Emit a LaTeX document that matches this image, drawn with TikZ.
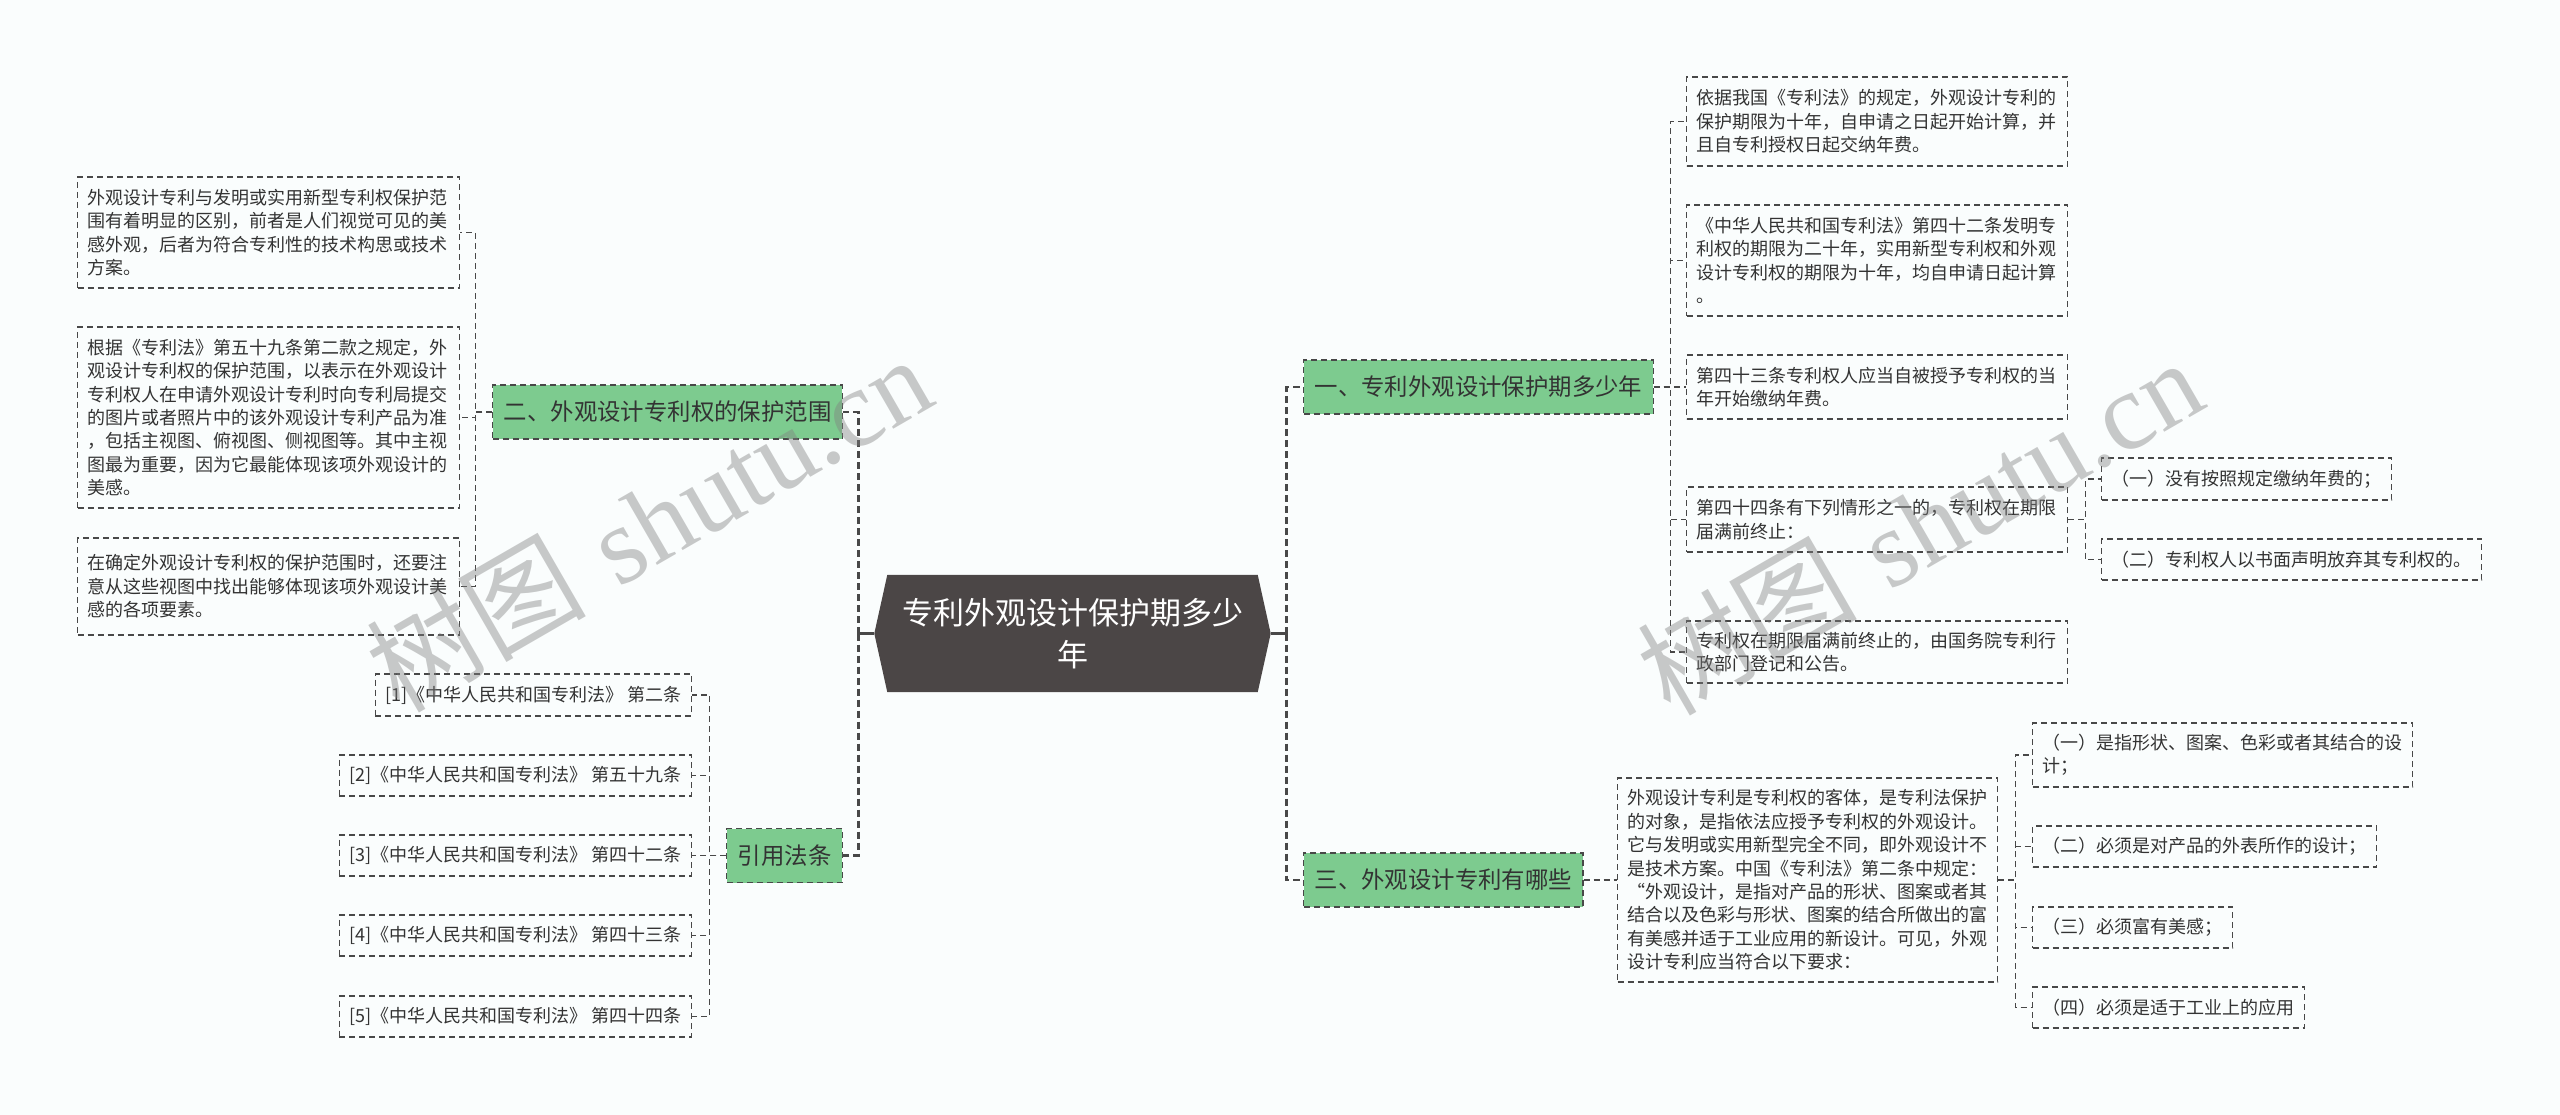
\documentclass[tikz,border=0pt]{standalone}
\usepackage{fontspec}
\newfontfamily\cjk{Noto Sans CJK SC}
\newfontfamily\wmserif{Liberation Serif}
\usetikzlibrary{backgrounds, calc}
\definecolor{BG}{RGB}{250,253,253}
\definecolor{LN}{RGB}{72,72,72}
\definecolor{TX}{RGB}{51,51,51}
\definecolor{GR}{RGB}{125,203,143}
\definecolor{RT}{RGB}{75,70,70}
\definecolor{WM}{RGB}{128,128,128}

\begin{document}
\begin{tikzpicture}[x=1pt, y=-1pt,
  leaf/.style={draw=LN, line width=1.2pt, dash pattern=on 6pt off 4pt,
    font=\cjk\fontsize{18}{23.4}\selectfont, text=TX, align=left,
    inner xsep=10pt, inner ysep=2pt},
  branch/.style={draw=LN, line width=1.2pt, dash pattern=on 6pt off 4pt,
    fill=GR, font=\cjk\fontsize{23.4}{28}\selectfont, text=TX,
    inner xsep=11pt, inner ysep=2pt, minimum height=54pt},
  rootbox/.style={font=\cjk\fontsize{31}{42}\selectfont, text=white,
    align=center, minimum width=370pt, minimum height=117pt, inner sep=0pt},
  link/.style={draw=LN, line width=1.2pt, dash pattern=on 6pt off 4pt},
  trunk/.style={draw=LN, line width=2.5pt, dash pattern=on 7pt off 4pt},
  stem/.style={draw=LN, line width=2.5pt},
  wmtext/.style={text=WM, text opacity=0.42, rotate=30, inner sep=0pt,
    font=\fontsize{110}{110}\selectfont}]

% Background
\begin{scope}[on background layer]
  \fill[BG] (0,0) rectangle (2560,1115);
\end{scope}
\useasboundingbox (0,0) rectangle (2560,1115);

% Root
\node[rootbox] (root) at (1072.5,633.5) {专利外观设计保护期多少\\年};
\begin{scope}[on background layer]
  \fill[RT] (root.north west) -- (root.north east) -- ($(root.east)+(13,0)$)
    -- (root.south east) -- (root.south west) -- ($(root.west)+(-13,0)$) -- cycle;
\end{scope}

% Left branches
\node[branch, anchor=east] (two) at (843,412) {二、外观设计专利权的保护范围};
\node[branch, anchor=east] (cite) at (843,855.5) {引用法条};

\node[leaf, text width=362pt, minimum height=111pt, anchor=west] (l1) at (77,232.5)
  {外观设计专利与发明或实用新型专利权保护范\\围有着明显的区别，前者是人们视觉可见的美\\感外观，后者为符合专利性的技术构思或技术\\方案。};
\node[leaf, text width=362pt, minimum height=181pt, anchor=west] (l2) at (77,417.5)
  {根据《专利法》第五十九条第二款之规定，外\\观设计专利权的保护范围，以表示在外观设计\\专利权人在申请外观设计专利时向专利局提交\\的图片或者照片中的该外观设计专利产品为准\\，包括主视图、俯视图、侧视图等。其中主视\\图最为重要，因为它最能体现该项外观设计的\\美感。};
\node[leaf, text width=362pt, minimum height=97pt, anchor=west] (l3) at (77,586.5)
  {在确定外观设计专利权的保护范围时，还要注\\意从这些视图中找出能够体现该项外观设计美\\感的各项要素。};

\node[leaf, minimum height=42pt, anchor=east] (r1) at (692,695) {[1]《中华人民共和国专利法》 第二条};
\node[leaf, minimum height=41pt, anchor=east] (r2) at (692,775.5) {[2]《中华人民共和国专利法》 第五十九条};
\node[leaf, minimum height=41pt, anchor=east] (r3) at (692,855.5) {[3]《中华人民共和国专利法》 第四十二条};
\node[leaf, minimum height=41pt, anchor=east] (r4) at (692,935.5) {[4]《中华人民共和国专利法》 第四十三条};
\node[leaf, minimum height=41pt, anchor=east] (r5) at (692,1016.5) {[5]《中华人民共和国专利法》 第四十四条};

% Right branches
\node[branch, anchor=west] (one) at (1303,387) {一、专利外观设计保护期多少年};
\node[branch, anchor=west] (three) at (1303,880) {三、外观设计专利有哪些};

\node[leaf, text width=361pt, minimum height=89pt, anchor=west] (y1) at (1686,121.5)
  {依据我国《专利法》的规定，外观设计专利的\\保护期限为十年，自申请之日起开始计算，并\\且自专利授权日起交纳年费。};
\node[leaf, text width=361pt, minimum height=111pt, anchor=west] (y2) at (1686,260.5)
  {《中华人民共和国专利法》第四十二条发明专\\利权的期限为二十年，实用新型专利权和外观\\设计专利权的期限为十年，均自申请日起计算\\。};
\node[leaf, text width=361pt, minimum height=64pt, anchor=west] (y3) at (1686,387)
  {第四十三条专利权人应当自被授予专利权的当\\年开始缴纳年费。};
\node[leaf, text width=361pt, minimum height=65pt, anchor=west] (y4) at (1686,519.5)
  {第四十四条有下列情形之一的，专利权在期限\\届满前终止：};
\node[leaf, text width=361pt, minimum height=62pt, anchor=west] (y5) at (1686,652)
  {专利权在期限届满前终止的，由国务院专利行\\政部门登记和公告。};

\node[leaf, minimum height=42pt, anchor=west] (s1) at (2101,479) {（一）没有按照规定缴纳年费的；};
\node[leaf, minimum height=41pt, anchor=west] (s2) at (2101,559.5) {（二）专利权人以书面声明放弃其专利权的。};

\node[leaf, text width=360pt, minimum height=204pt, anchor=west] (t) at (1617,880)
  {外观设计专利是专利权的客体，是专利法保护\\的对象，是指依法应授予专利权的外观设计。\\它与发明或实用新型完全不同，即外观设计不\\是技术方案。中国《专利法》第二条中规定：\\“外观设计，是指对产品的形状、图案或者其\\结合以及色彩与形状、图案的结合所做出的富\\有美感并适于工业应用的新设计。可见，外观\\设计专利应当符合以下要求：};

\node[leaf, text width=360pt, minimum height=64pt, anchor=west] (u1) at (2032,755)
  {（一）是指形状、图案、色彩或者其结合的设\\计；};
\node[leaf, minimum height=41pt, anchor=west] (u2) at (2032,846.5) {（二）必须是对产品的外表所作的设计；};
\node[leaf, minimum height=41pt, anchor=west] (u3) at (2032,927.5) {（三）必须富有美感；};
\node[leaf, minimum height=41pt, anchor=west] (u4) at (2032,1007.5) {（四）必须是适于工业上的应用};

% Main spines
\draw[stem] ($(root.west)+(-13,0)$) -- ++(-16,0) coordinate (lspine);
\draw[stem] ($(root.east)+(13,0)$) -- ++(16,0) coordinate (rspine);
\foreach \b in {two,cite} \draw[trunk] (lspine) |- (\b.east);
\foreach \b in {one,three} \draw[trunk] (rspine) |- (\b.west);

% Leaf connectors
\foreach \c in {l1,l2,l3} \draw[link] (two.west) -- ++(-17,0) |- (\c.east);
\foreach \c in {r1,r2,r3,r4,r5} \draw[link] (cite.west) -- ++(-16.5,0) |- (\c.east);
\foreach \c in {y1,y2,y3,y4,y5} \draw[link] (one.east) -- ++(17,0) |- (\c.west);
\foreach \c in {s1,s2} \draw[link] (y4.east) -- ++(17,0) |- (\c.west);
\draw[link] (three.east) -- (t.west);
\foreach \c in {u1,u2,u3,u4} \draw[link] (t.east) -- ++(17,0) |- (\c.west);

% Watermarks
\node[wmtext] (wmL) at (648,523) {{\cjk 树图} {\wmserif shutu.cn}};
\node[wmtext] (wmR) at (1919,526) {{\cjk 树图} {\wmserif shutu.cn}};
\end{tikzpicture}
\end{document}
